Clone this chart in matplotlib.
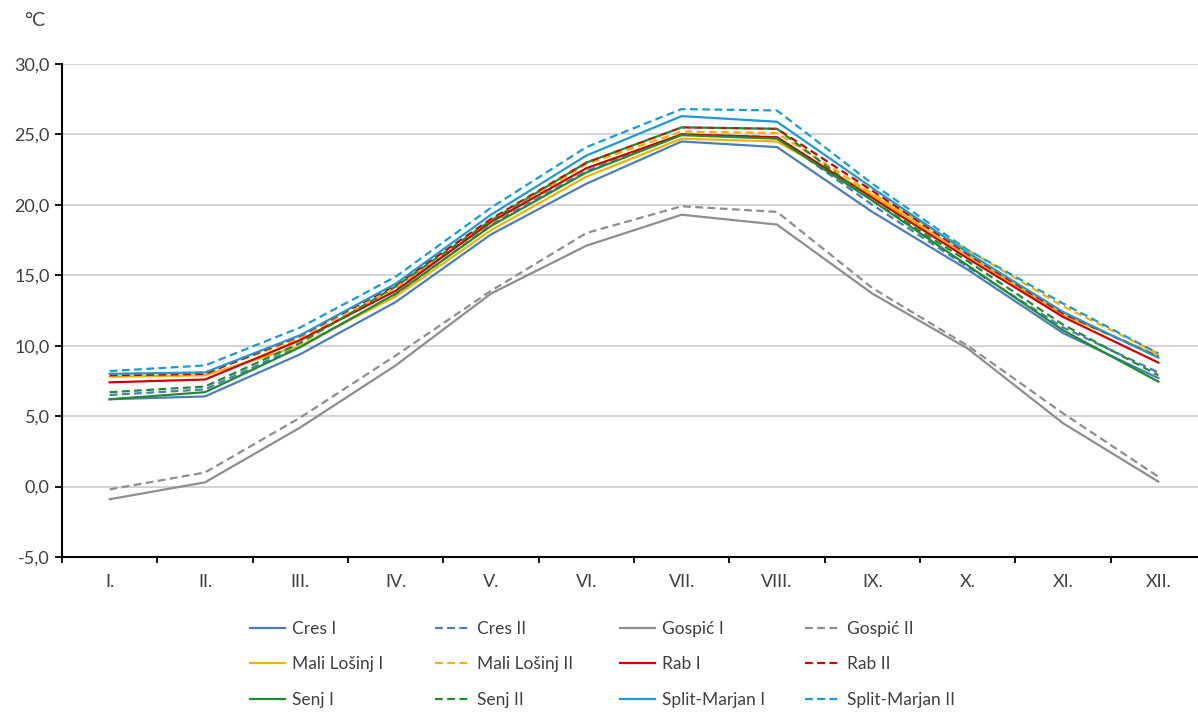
import matplotlib
matplotlib.use('Agg')
import matplotlib.pyplot as plt
from matplotlib.ticker import FixedLocator, FuncFormatter

months = ['I.', 'II.', 'III.', 'IV.', 'V.', 'VI.', 'VII.', 'VIII.', 'IX.', 'X.', 'XI.', 'XII.']

cres_1 = [6.2, 6.4, 9.4, 13.1, 17.9, 21.5, 24.5, 24.1, 19.5, 15.4, 10.9, 7.7]
cres_2 = [6.5, 6.9, 10.0, 13.6, 18.6, 22.4, 25.0, 24.8, 20.0, 15.6, 11.3, 8.1]
gospic_1 = [-0.9, 0.3, 4.2, 8.6, 13.7, 17.1, 19.3, 18.6, 13.7, 9.8, 4.5, 0.35]
gospic_2 = [-0.2, 1.0, 4.9, 9.3, 13.9, 18.0, 19.9, 19.5, 14.1, 10.0, 5.2, 0.7]
losinj_1 = [7.8, 7.9, 10.0, 13.5, 18.2, 22.0, 24.7, 24.5, 20.7, 16.4, 12.2, 9.3]
losinj_2 = [8.0, 8.1, 10.5, 14.1, 18.7, 22.9, 25.2, 25.1, 20.8, 16.8, 12.8, 9.45]
rab_1 = [7.4, 7.6, 10.4, 13.9, 18.8, 22.6, 25.0, 24.8, 20.5, 16.2, 12.05, 8.8]
rab_2 = [7.9, 8.0, 10.7, 14.3, 19.0, 23.0, 25.5, 25.4, 21.0, 16.5, 12.3, 9.2]
senj_1 = [6.2, 6.7, 9.9, 13.7, 18.5, 22.3, 24.95, 24.7, 20.3, 15.7, 11.1, 7.45]
senj_2 = [6.7, 7.1, 10.2, 14.2, 18.9, 23.0, 25.5, 25.4, 20.3, 16.0, 11.5, 7.9]
split_1 = [8.0, 8.1, 10.75, 14.4, 19.3, 23.5, 26.3, 25.9, 21.2, 16.6, 12.4, 9.15]
split_2 = [8.2, 8.6, 11.3, 14.9, 19.8, 24.1, 26.8, 26.7, 21.5, 16.8, 13.0, 9.45]

series = [
    ('Cres I', cres_1, '#4A7EBB', '-'), ('Cres II', cres_2, '#4A7EBB', '--'),
    ('Gospić I', gospic_1, '#8E8E8E', '-'), ('Gospić II', gospic_2, '#8E8E8E', '--'),
    ('Mali Lošinj I', losinj_1, '#F5B000', '-'), ('Mali Lošinj II', losinj_2, '#F5B000', '--'),
    ('Rab I', rab_1, '#D00000', '-'), ('Rab II', rab_2, '#D00000', '--'),
    ('Senj I', senj_1, '#1E8C32', '-'), ('Senj II', senj_2, '#1E8C32', '--'),
    ('Split-Marjan I', split_1, '#1B9AD6', '-'), ('Split-Marjan II', split_2, '#1B9AD6', '--'),
]

plt.rcParams['font.family'] = ['Lato', 'DejaVu Sans']

fig = plt.figure(figsize=(11.98, 7.13), dpi=100)
ax = fig.add_axes([62 / 1198, 156 / 713, 1144 / 1198, 493 / 713])

x = list(range(len(months)))
lines = []
for name, vals, col, ls in series:
    line, = ax.plot(x, vals, color=col, lw=1.6, ls=ls, label=name)
    if ls == '--':
        line.set_dashes((3.5, 2))
    lines.append(line)

ax.set_xlim(-0.5, 11.5)
ax.set_ylim(-5, 30)
ax.set_yticks(range(-5, 31, 5))
ax.yaxis.set_major_formatter(FuncFormatter(lambda v, p: f'{v:.1f}'.replace('.', ',')))
ax.grid(axis='y', color='#D0D0D0', lw=1.3)
ax.set_axisbelow(True)

ax.set_xticks(x)
ax.set_xticklabels(months)
ax.xaxis.set_minor_locator(FixedLocator([i + 0.5 for i in range(-1, 12)]))
ax.tick_params(axis='x', which='major', length=0, pad=12, labelsize=13, labelcolor='#404040')
ax.tick_params(axis='x', which='minor', length=4, width=1.3, direction='out')
ax.tick_params(axis='y', length=5, width=1.3, labelsize=13, labelcolor='#404040', pad=4)

for s in ['top', 'right']:
    ax.spines[s].set_visible(False)
ax.spines['left'].set_linewidth(1.5)
ax.spines['bottom'].set_linewidth(1.5)

fig.text(24 / 1198, 1 - 20 / 713, '°C', fontsize=14, color='#404040', va='center')

# one legend per column so the columns are evenly spaced
col_x = [250, 435, 620, 805]
for c in range(4):
    idx = [c, c + 4, c + 8]
    leg = fig.legend([lines[i] for i in idx], [series[i][0] for i in idx],
                     loc='upper left', bbox_to_anchor=(col_x[c] / 1198, 1 - 621 / 713),
                     frameon=False, fontsize=12.5, handlelength=2.0, labelspacing=1.12,
                     handletextpad=0.4, borderpad=0, borderaxespad=0, labelcolor='#404040')

fig.savefig('out.png', dpi=100)
